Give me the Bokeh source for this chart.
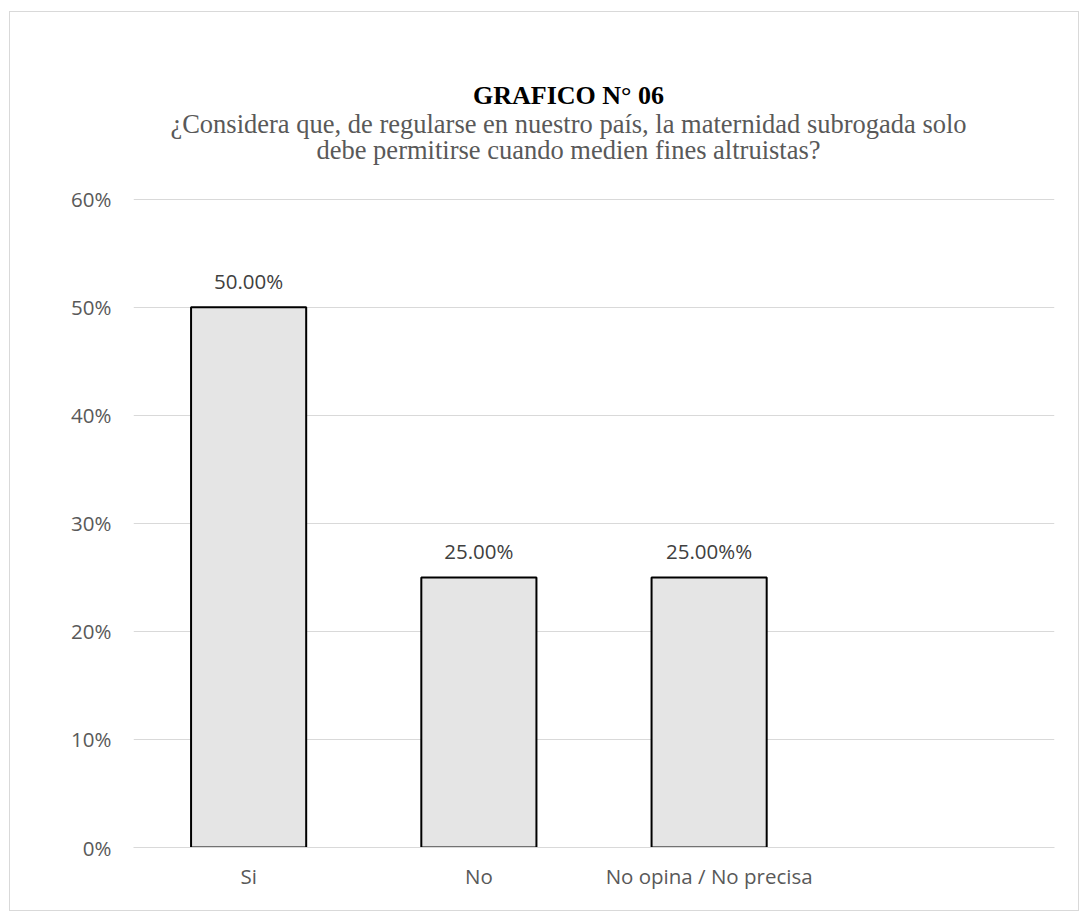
from bokeh.plotting import figure
from bokeh.models import (ColumnDataSource, FactorRange, NumeralTickFormatter,
                          FixedTicker, Label, LabelSet)
from bokeh.core.properties import value
from bokeh.embed import file_html
from bokeh.resources import INLINE

categories = ["Si", "No", "No opina / No precisa", " "]
values = [0.50, 0.25, 0.25]
value_labels = ["50.00%", "25.00%", "25.00%%"]
y_ticks = [0, 0.1, 0.2, 0.3, 0.4, 0.5, 0.6]
title_text = "GRAFICO N° 06"
subtitle_lines = ["¿Considera que, de regularse en nuestro país, la maternidad subrogada solo",
                  "debe permitirse cuando medien fines altruistas?"]

TICK_FONT = "Open Sans"
TICK_SIZE = "20.5px"

p = figure(x_range=FactorRange(factors=categories), y_range=(0, 0.7544),
           width=1070, height=900, output_backend="svg", toolbar_location=None,
           min_border_left=123, min_border_right=26, min_border_top=20,
           min_border_bottom=65)
p.margin = (11, 0, 0, 9)
p.styles = {"border": "1px solid #d9d9d9"}
p.outline_line_color = None

src = ColumnDataSource(dict(cat=categories[:3], val=values, lab=value_labels))
p.vbar(x="cat", top="val", width=0.5, source=src, fill_color="#e5e5e5",
       line_color="black", line_width=2)

labels = LabelSet(x="cat", y="val", text="lab", source=src, text_align="center",
                  text_baseline="alphabetic", y_offset=18,
                  text_font=value(TICK_FONT), text_font_size=value(TICK_SIZE),
                  text_color="#404040")
p.add_layout(labels)

ticker = FixedTicker(ticks=y_ticks)
p.yaxis.ticker = ticker
p.ygrid.ticker = ticker
p.yaxis.formatter = NumeralTickFormatter(format="0%")
for ax in (p.xaxis, p.yaxis):
    ax.major_tick_line_color = None
    ax.minor_tick_line_color = None
    ax.major_label_text_font = TICK_FONT
    ax.major_label_text_font_size = TICK_SIZE
    ax.major_label_text_color = "#595959"
p.yaxis.axis_line_color = None
p.xaxis.axis_line_color = "#d9d9d9"
p.yaxis.major_label_standoff = 16
p.xaxis.major_label_standoff = 8
p.xgrid.grid_line_color = None
p.ygrid.grid_line_color = "#d9d9d9"

cx = 435
p.add_layout(Label(x=cx, y=752, x_units="screen", y_units="screen",
                   text=title_text, text_align="center", text_baseline="middle",
                   text_font="Liberation Serif", text_font_style="bold",
                   text_font_size="26px", text_color="black"))
for i, line in enumerate(subtitle_lines):
    p.add_layout(Label(x=cx, y=724 - 26 * i, x_units="screen", y_units="screen",
                       text=line, text_align="center", text_baseline="middle",
                       text_font="Liberation Serif", text_font_size="26.5px",
                       text_color="#595959"))

open("out.html", "w").write(file_html(p, INLINE))
